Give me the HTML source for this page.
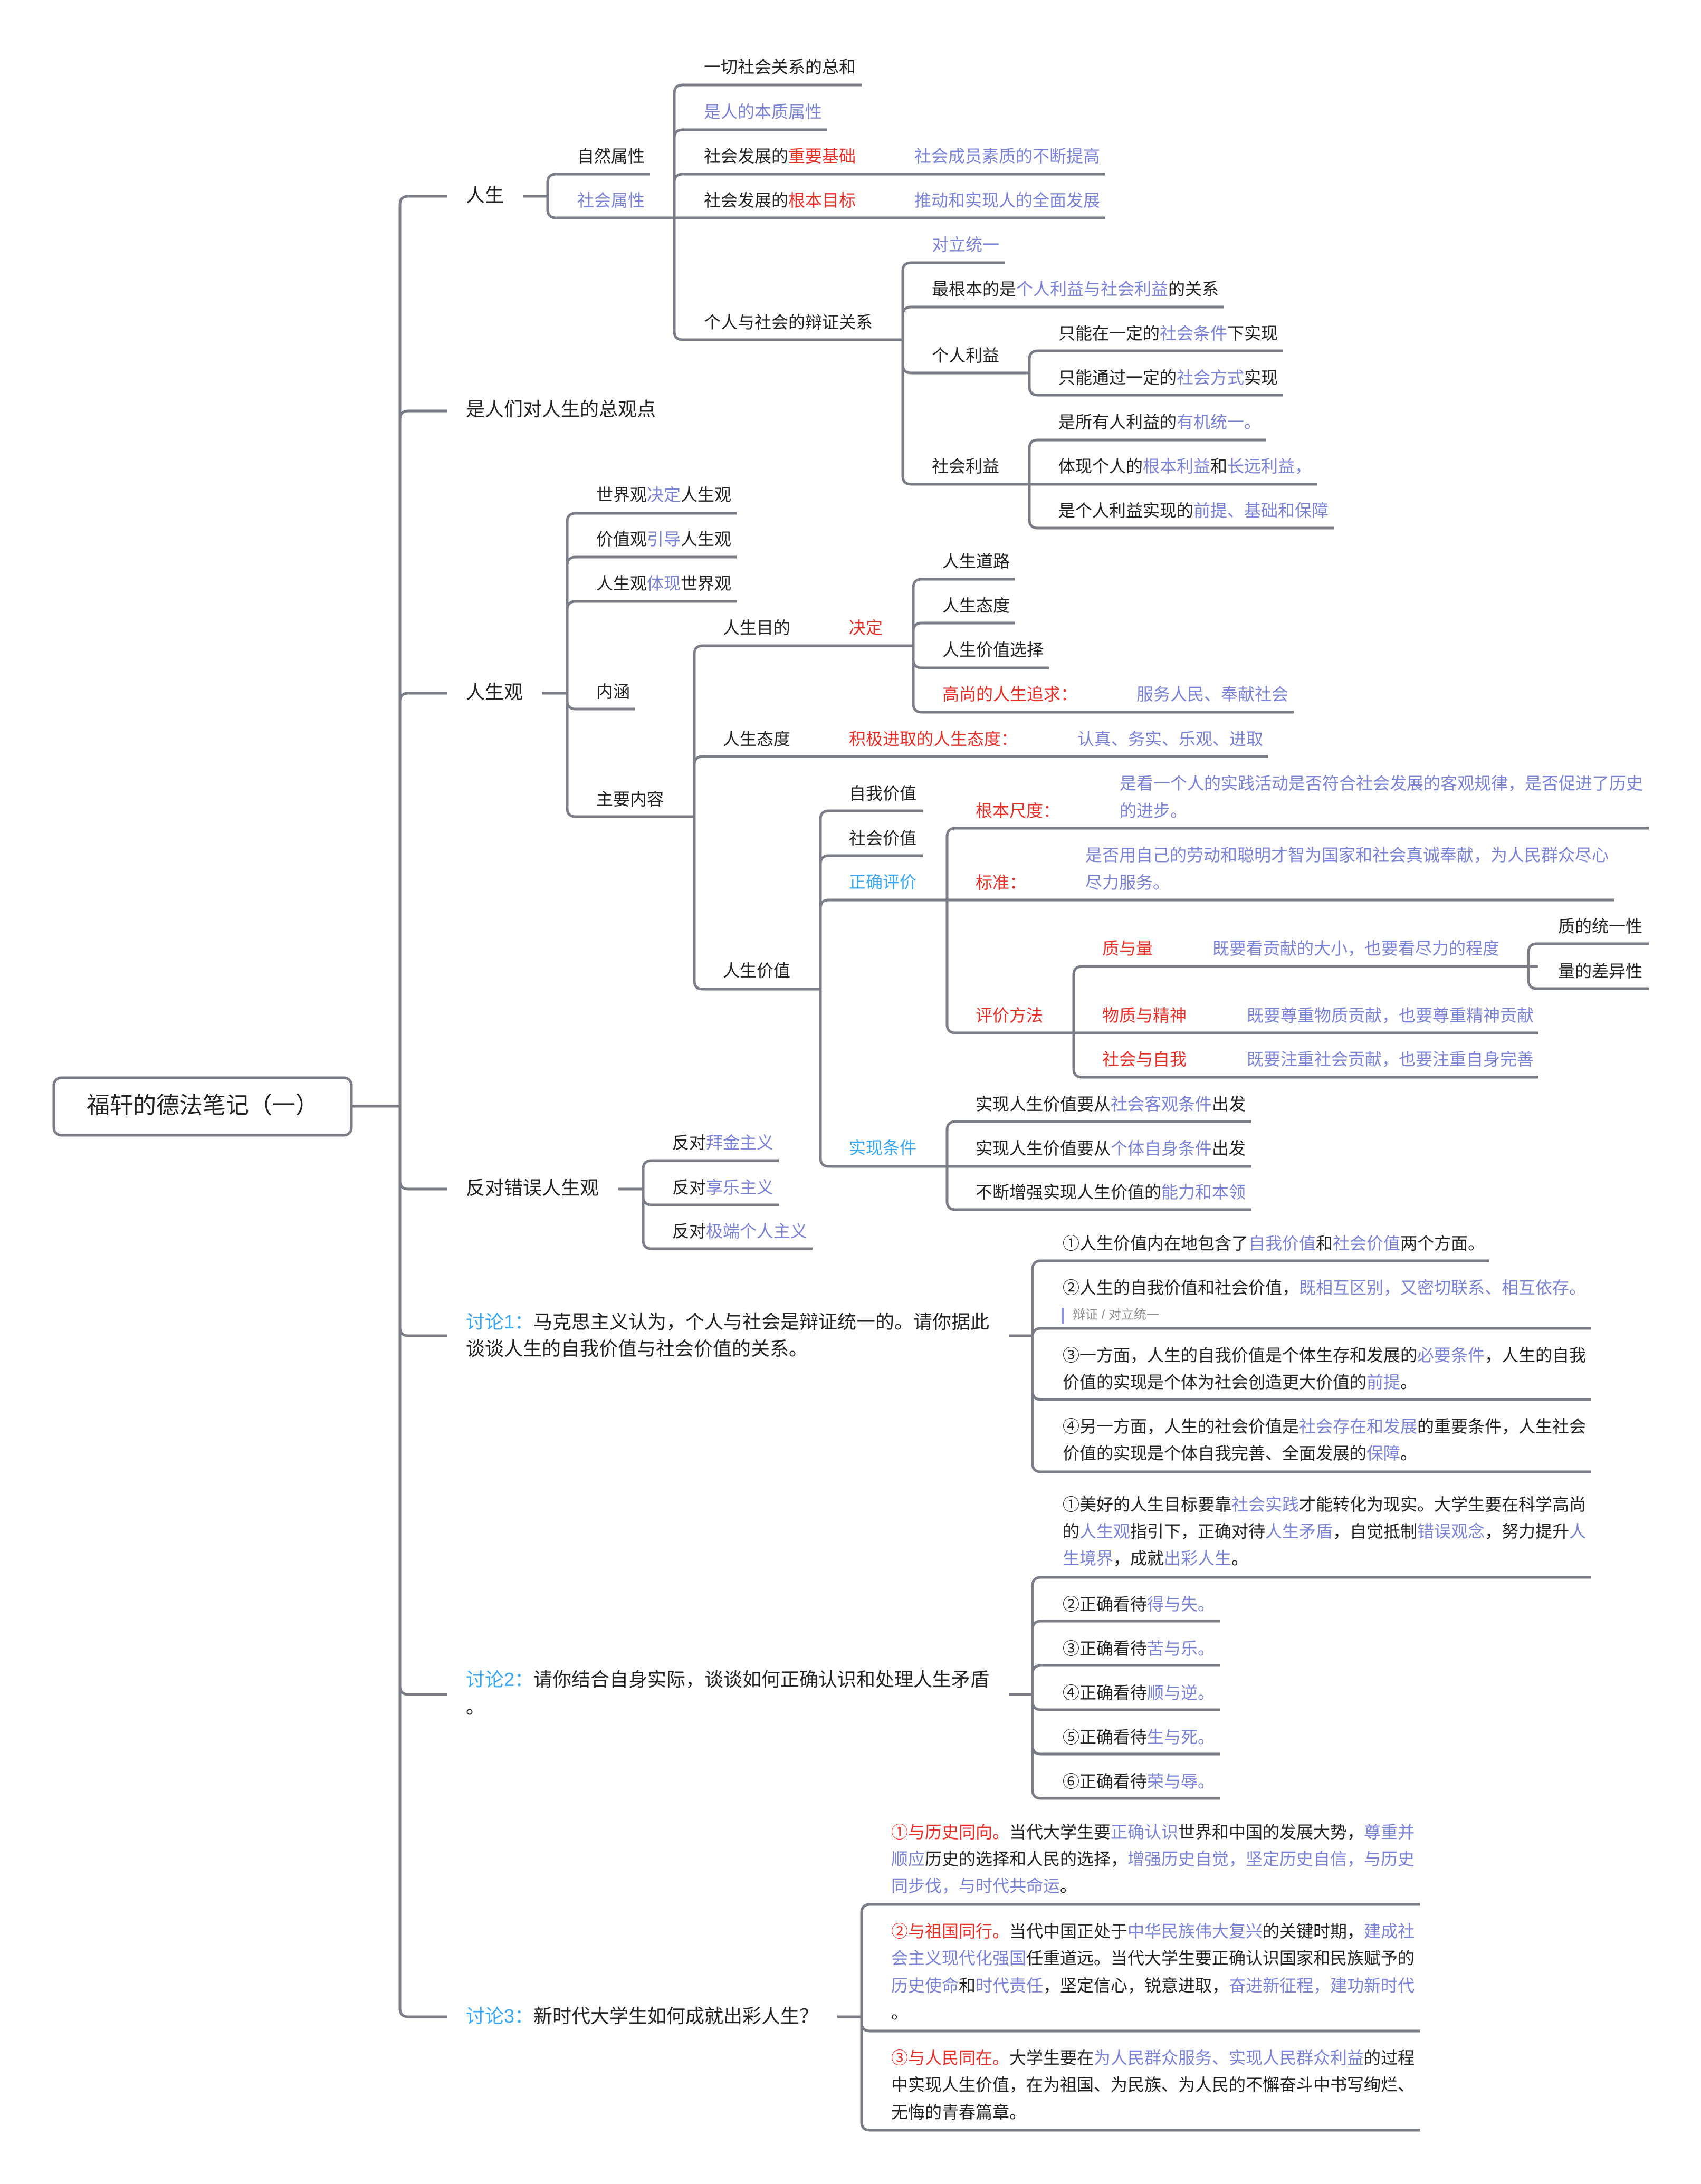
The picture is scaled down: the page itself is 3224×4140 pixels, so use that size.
<!DOCTYPE html>
<html lang="zh"><head><meta charset="utf-8"><title>福轩的德法笔记</title>
<style>
html,body{margin:0;padding:0;background:#fff}
#p{position:relative;width:3224px;height:4140px;overflow:hidden;background:#fff;font-family:"Liberation Sans","Noto Sans CJK SC",sans-serif;font-size:32px;color:#222}
svg{position:absolute;left:0;top:0}
path{fill:none;stroke:#7c7c86;stroke-width:5}
.t{position:absolute;white-space:nowrap;line-height:52px;height:52px;margin-top:1px}
.m{font-size:36px}
i{font-style:normal;color:#7b83d2}
b{font-weight:normal;color:#e5302a}
u{text-decoration:none;color:#3ba7f2}
</style></head><body><div id="p">
<svg width="3224" height="4140" viewBox="0 0 3224 4140">
<rect x="102" y="2043" width="564" height="109" rx="14" fill="#fff" stroke="#7c7c86" stroke-width="5"/>
<path d="M666 2097H758"/>
<path d="M848 372H774Q758 372 758 388V3807Q758 3823 774 3823H848"/>
<path d="M848 779H774Q758 779 758 795"/>
<path d="M848 1314H774Q758 1314 758 1330"/>
<path d="M848 2254H774Q758 2254 758 2238"/>
<path d="M848 2532H774Q758 2532 758 2516"/>
<path d="M848 3212H774Q758 3212 758 3196"/>

<path d="M992 372H1038"/>
<path d="M1232 330H1054Q1038 330 1038 346V397Q1038 413 1054 413H2095"/>
<path d="M1633 161H1294Q1278 161 1278 177V628Q1278 644 1294 644H1711"/>
<path d="M1568 246H1294Q1278 246 1278 262"/>
<path d="M2095 330H1294Q1278 330 1278 346"/>
<path d="M1904 498H1727Q1711 498 1711 514V902Q1711 918 1727 918H2496"/>
<path d="M2320 582H1727Q1711 582 1711 598"/>
<path d="M1951 707H1727Q1711 707 1711 691"/>
<path d="M2432 665H1967Q1951 665 1951 681V733Q1951 749 1967 749H2432"/>
<path d="M2400 834H1967Q1951 834 1951 850V985Q1951 1001 1967 1001H2528"/>

<path d="M1028 1314H1075"/>
<path d="M1396 973H1091Q1075 973 1075 989V1532Q1075 1548 1091 1548H1316"/>
<path d="M1396 1056H1091Q1075 1056 1075 1072"/>
<path d="M1396 1140H1091Q1075 1140 1075 1156"/>
<path d="M1204 1344H1091Q1075 1344 1075 1328"/>
<path d="M1730 1224H1332Q1316 1224 1316 1240V1859Q1316 1875 1332 1875H1555"/>
<path d="M2404 1434H1332Q1316 1434 1316 1450"/>
<path d="M1924 1098H1747Q1731 1098 1731 1114V1334Q1731 1350 1747 1350H2452"/>
<path d="M1924 1181H1747Q1731 1181 1731 1197"/>
<path d="M1988 1266H1747Q1731 1266 1731 1250"/>
<path d="M1749 1537H1571Q1555 1537 1555 1553V2195Q1555 2211 1571 2211H2372"/>
<path d="M1749 1622H1571Q1555 1622 1555 1638"/>
<path d="M3060 1706H1571Q1555 1706 1555 1722"/>
<path d="M3125 1570H1811Q1795 1570 1795 1586V1942Q1795 1958 1811 1958H2915"/>
<path d="M2915 1832H2051Q2035 1832 2035 1848V2026Q2035 2042 2051 2042H2915"/>
<path d="M3125 1789H2913Q2897 1789 2897 1805V1858Q2897 1874 2913 1874H3125"/>
<path d="M2372 2126H1811Q1795 2126 1795 2142V2277Q1795 2293 1811 2293H2372"/>

<path d="M1172 2254H1219"/>
<path d="M1476 2200H1235Q1219 2200 1219 2216V2351Q1219 2367 1235 2367H1540"/>
<path d="M1476 2284H1235Q1219 2284 1219 2268"/>

<path d="M1912 2532H1957"/>
<path d="M2823 2390H1973Q1957 2390 1957 2406V2774Q1957 2790 1973 2790H3016"/>
<path d="M3016 2518H1973Q1957 2518 1957 2534"/>
<path d="M3016 2653H1973Q1957 2653 1957 2637"/>

<path d="M1912 3212H1957"/>
<path d="M3016 2990H1973Q1957 2990 1957 3006V3393Q1957 3409 1973 3409H2312"/>
<path d="M2312 3073H1973Q1957 3073 1957 3089"/>
<path d="M2312 3157H1973Q1957 3157 1957 3173"/>
<path d="M2312 3241H1973Q1957 3241 1957 3225"/>
<path d="M2312 3325H1973Q1957 3325 1957 3309"/>

<path d="M1587 3823H1633"/>
<path d="M2692 3610H1649Q1633 3610 1633 3626V4022Q1633 4038 1649 4038H2692"/>
<path d="M2692 3850H1649Q1633 3850 1633 3834"/>
<rect x="2012" y="2479" width="4" height="31" fill="#8f95e0"/>
</svg>

<div class="t" style="left:164px;top:2067px;font-size:44px;line-height:56px;height:56px">福轩的德法笔记&#xFF08;一&#xFF09;</div>

<div class="t m" style="left:883px;top:343px">人生</div>
<div class="t m" style="left:883px;top:749px">是人们对人生的总观点</div>
<div class="t m" style="left:883px;top:1285px">人生观</div>
<div class="t m" style="left:883px;top:2225px">反对错误人生观</div>
<div class="t m" style="left:883px;top:2479px"><u>讨论1&#xFF1A;</u>马克思主义认为&#xFF0C;个人与社会是辩证统一的。请你据此</div>
<div class="t m" style="left:883px;top:2530px">谈谈人生的自我价值与社会价值的关系。</div>
<div class="t m" style="left:883px;top:3157px"><u>讨论2&#xFF1A;</u>请你结合自身实际&#xFF0C;谈谈如何正确认识和处理人生矛盾</div>
<div class="t m" style="left:883px;top:3209px">。</div>
<div class="t m" style="left:883px;top:3795px"><u>讨论3&#xFF1A;</u>新时代大学生如何成就出彩人生&#xFF1F;</div>

<div class="t" style="left:1094px;top:269px">自然属性</div>
<div class="t" style="left:1094px;top:353px"><i>社会属性</i></div>
<div class="t" style="left:1334px;top:100px">一切社会关系的总和</div>
<div class="t" style="left:1334px;top:185px"><i>是人的本质属性</i></div>
<div class="t" style="left:1334px;top:269px">社会发展的<b>重要基础</b></div>
<div class="t" style="left:1733px;top:269px"><i>社会成员素质的不断提高</i></div>
<div class="t" style="left:1334px;top:353px">社会发展的<b>根本目标</b></div>
<div class="t" style="left:1733px;top:353px"><i>推动和实现人的全面发展</i></div>
<div class="t" style="left:1334px;top:584px">个人与社会的辩证关系</div>
<div class="t" style="left:1766px;top:437px"><i>对立统一</i></div>
<div class="t" style="left:1766px;top:521px">最根本的是<i>个人利益与社会利益</i>的关系</div>
<div class="t" style="left:1766px;top:647px">个人利益</div>
<div class="t" style="left:1766px;top:857px">社会利益</div>
<div class="t" style="left:2006px;top:605px">只能在一定的<i>社会条件</i>下实现</div>
<div class="t" style="left:2006px;top:689px">只能通过一定的<i>社会方式</i>实现</div>
<div class="t" style="left:2006px;top:773px">是所有人利益的<i>有机统一。</i></div>
<div class="t" style="left:2006px;top:857px">体现个人的<i>根本利益</i>和<i>长远利益&#xFF0C;</i></div>
<div class="t" style="left:2006px;top:941px">是个人利益实现的<i>前提、基础和保障</i></div>

<div class="t" style="left:1130px;top:911px">世界观<i>决定</i>人生观</div>
<div class="t" style="left:1130px;top:995px">价值观<i>引导</i>人生观</div>
<div class="t" style="left:1130px;top:1079px">人生观<i>体现</i>世界观</div>
<div class="t" style="left:1130px;top:1284px">内涵</div>
<div class="t" style="left:1130px;top:1488px">主要内容</div>
<div class="t" style="left:1370px;top:1163px">人生目的</div>
<div class="t" style="left:1609px;top:1163px"><b>决定</b></div>
<div class="t" style="left:1786px;top:1037px">人生道路</div>
<div class="t" style="left:1786px;top:1121px">人生态度</div>
<div class="t" style="left:1786px;top:1205px">人生价值选择</div>
<div class="t" style="left:1786px;top:1289px"><b>高尚的人生追求&#xFF1A;</b></div>
<div class="t" style="left:2154px;top:1289px"><i>服务人民、奉献社会</i></div>
<div class="t" style="left:1370px;top:1374px">人生态度</div>
<div class="t" style="left:1609px;top:1374px"><b>积极进取的人生态度&#xFF1A;</b></div>
<div class="t" style="left:2042px;top:1374px"><i>认真、务实、乐观、进取</i></div>
<div class="t" style="left:1370px;top:1813px">人生价值</div>
<div class="t" style="left:1609px;top:1477px">自我价值</div>
<div class="t" style="left:1609px;top:1562px">社会价值</div>
<div class="t" style="left:1609px;top:1645px"><u>正确评价</u></div>
<div class="t" style="left:1609px;top:2149px"><u>实现条件</u></div>
<div class="t" style="left:1849px;top:1510px"><b>根本尺度&#xFF1A;</b></div>
<div class="t" style="left:2122px;top:1458px"><i>是看一个人的实践活动是否符合社会发展的客观规律&#xFF0C;是否促进了历史</i></div>
<div class="t" style="left:2122px;top:1510px"><i>的进步。</i></div>
<div class="t" style="left:1849px;top:1646px"><b>标准&#xFF1A;</b></div>
<div class="t" style="left:2057px;top:1594px"><i>是否用自己的劳动和聪明才智为国家和社会真诚奉献&#xFF0C;为人民群众尽心</i></div>
<div class="t" style="left:2057px;top:1646px"><i>尽力服务。</i></div>
<div class="t" style="left:1849px;top:1898px"><b>评价方法</b></div>
<div class="t" style="left:2089px;top:1771px"><b>质与量</b></div>
<div class="t" style="left:2298px;top:1771px"><i>既要看贡献的大小&#xFF0C;也要看尽力的程度</i></div>
<div class="t" style="left:2953px;top:1729px">质的统一性</div>
<div class="t" style="left:2953px;top:1814px">量的差异性</div>
<div class="t" style="left:2089px;top:1898px"><b>物质与精神</b></div>
<div class="t" style="left:2363px;top:1898px"><i>既要尊重物质贡献&#xFF0C;也要尊重精神贡献</i></div>
<div class="t" style="left:2089px;top:1981px"><b>社会与自我</b></div>
<div class="t" style="left:2363px;top:1981px"><i>既要注重社会贡献&#xFF0C;也要注重自身完善</i></div>
<div class="t" style="left:1849px;top:2066px">实现人生价值要从<i>社会客观条件</i>出发</div>
<div class="t" style="left:1849px;top:2150px">实现人生价值要从<i>个体自身条件</i>出发</div>
<div class="t" style="left:1849px;top:2233px">不断增强实现人生价值的<i>能力和本领</i></div>

<div class="t" style="left:1274px;top:2139px">反对<i>拜金主义</i></div>
<div class="t" style="left:1274px;top:2224px">反对<i>享乐主义</i></div>
<div class="t" style="left:1274px;top:2307px">反对<i>极端个人主义</i></div>

<div class="t" style="left:2014px;top:2330px">①人生价值内在地包含了<i>自我价值</i>和<i>社会价值</i>两个方面。</div>
<div class="t" style="left:2014px;top:2414px">②人生的自我价值和社会价值&#xFF0C;<i>既相互区别&#xFF0C;又密切联系、相互依存。</i></div>
<div class="t" style="left:2033px;top:2466px;font-size:24px;color:#8a8a8a">辩证 / 对立统一</div>
<div class="t" style="left:2014px;top:2542px">③一方面&#xFF0C;人生的自我价值是个体生存和发展的<i>必要条件</i>&#xFF0C;人生的自我</div>
<div class="t" style="left:2014px;top:2593px">价值的实现是个体为社会创造更大价值的<i>前提</i>。</div>
<div class="t" style="left:2014px;top:2677px">④另一方面&#xFF0C;人生的社会价值是<i>社会存在和发展</i>的重要条件&#xFF0C;人生社会</div>
<div class="t" style="left:2014px;top:2728px">价值的实现是个体自我完善、全面发展的<i>保障</i>。</div>

<div class="t" style="left:2014px;top:2825px">①美好的人生目标要靠<i>社会实践</i>才能转化为现实。大学生要在科学高尚</div>
<div class="t" style="left:2014px;top:2876px">的<i>人生观</i>指引下&#xFF0C;正确对待<i>人生矛盾</i>&#xFF0C;自觉抵制<i>错误观念</i>&#xFF0C;努力提升<i>人</i></div>
<div class="t" style="left:2014px;top:2927px"><i>生境界</i>&#xFF0C;成就<i>出彩人生</i>。</div>
<div class="t" style="left:2014px;top:3014px">②正确看待<i>得与失。</i></div>
<div class="t" style="left:2014px;top:3098px">③正确看待<i>苦与乐。</i></div>
<div class="t" style="left:2014px;top:3182px">④正确看待<i>顺与逆。</i></div>
<div class="t" style="left:2014px;top:3266px">⑤正确看待<i>生与死。</i></div>
<div class="t" style="left:2014px;top:3350px">⑥正确看待<i>荣与辱。</i></div>

<div class="t" style="left:1689px;top:3446px"><b>①与历史同向。</b>当代大学生要<i>正确认识</i>世界和中国的发展大势&#xFF0C;<i>尊重并</i></div>
<div class="t" style="left:1689px;top:3497px"><i>顺应</i>历史的选择和人民的选择&#xFF0C;<i>增强历史自觉&#xFF0C;坚定历史自信&#xFF0C;与历史</i></div>
<div class="t" style="left:1689px;top:3548px"><i>同步伐&#xFF0C;与时代共命运</i>。</div>
<div class="t" style="left:1689px;top:3634px"><b>②与祖国同行。</b>当代中国正处于<i>中华民族伟大复兴</i>的关键时期&#xFF0C;<i>建成社</i></div>
<div class="t" style="left:1689px;top:3685px"><i>会主义现代化强国</i>任重道远。当代大学生要正确认识国家和民族赋予的</div>
<div class="t" style="left:1689px;top:3737px"><i>历史使命</i>和<i>时代责任</i>&#xFF0C;坚定信心&#xFF0C;锐意进取&#xFF0C;<i>奋进新征程&#xFF0C;建功新时代</i></div>
<div class="t" style="left:1689px;top:3788px">。</div>
<div class="t" style="left:1689px;top:3874px"><b>③与人民同在。</b>大学生要在<i>为人民群众服务、实现人民群众利益</i>的过程</div>
<div class="t" style="left:1689px;top:3925px">中实现人生价值&#xFF0C;在为祖国、为民族、为人民的不懈奋斗中书写绚烂、</div>
<div class="t" style="left:1689px;top:3977px">无悔的青春篇章。</div>
</div></body></html>
